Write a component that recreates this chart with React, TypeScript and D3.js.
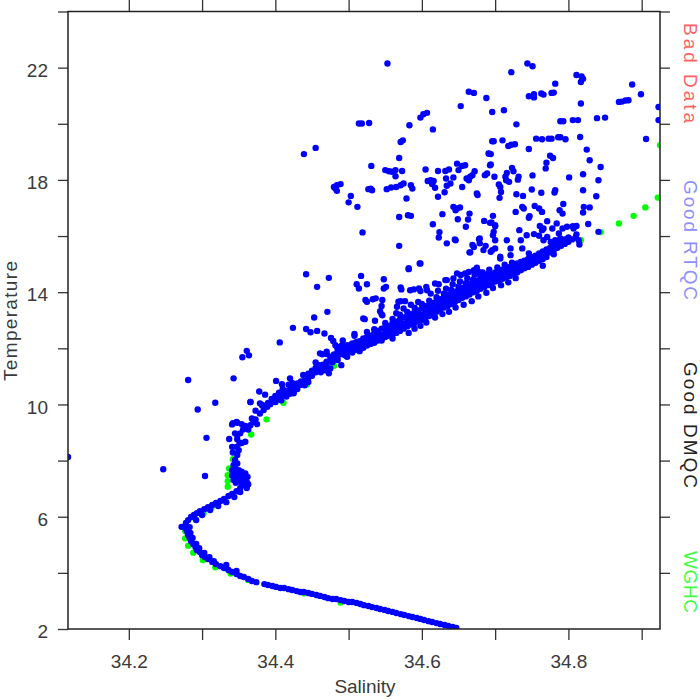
import { useEffect, useRef } from 'react';
import * as d3 from 'd3';

// axis ticks
const salinityTicks = [34.2, 34.3, 34.4, 34.5, 34.6, 34.7, 34.8, 34.9];
const salinityLabels = ['34.2', '34.4', '34.6', '34.8'];
const tempTicks = [2, 4, 6, 8, 10, 12, 14, 16, 18, 20, 22, 24];
const tempLabels = [2, 6, 10, 14, 18, 22];
const legendLabels = ['Bad Data', 'Good RTQC', 'Good DMQC', 'WGHC'];
const legendColors = ['#ff6262', '#8e8eff', '#222222', '#40ff40'];

// [salinity, temperature] — deep part of the profile (bottom curve + S bend)
const deepCurve = [
  [34.647, 2.04], [34.642, 2.07], [34.636, 2.11], [34.631, 2.14], [34.625, 2.18], [34.620, 2.21],
  [34.614, 2.25], [34.609, 2.28], [34.603, 2.32], [34.598, 2.36], [34.593, 2.39], [34.587, 2.43],
  [34.582, 2.46], [34.576, 2.50], [34.571, 2.53], [34.565, 2.57], [34.560, 2.61], [34.554, 2.64],
  [34.549, 2.68], [34.543, 2.71], [34.538, 2.75], [34.532, 2.78], [34.527, 2.82], [34.521, 2.85],
  [34.516, 2.89], [34.511, 2.93], [34.505, 2.96], [34.500, 2.96], [34.494, 3.00], [34.489, 3.03],
  [34.483, 3.07], [34.478, 3.07], [34.472, 3.10], [34.467, 3.14], [34.461, 3.18], [34.456, 3.21],
  [34.450, 3.25], [34.445, 3.28], [34.439, 3.32], [34.434, 3.32], [34.429, 3.35], [34.423, 3.39],
  [34.418, 3.42], [34.412, 3.46], [34.407, 3.46], [34.401, 3.50], [34.396, 3.53], [34.390, 3.57],
  [34.385, 3.60], [34.374, 3.67], [34.368, 3.71], [34.363, 3.78], [34.357, 3.85], [34.352, 3.89],
  [34.347, 3.96], [34.341, 4.03], [34.336, 4.10], [34.330, 4.17], [34.325, 4.24], [34.319, 4.31],
  [34.314, 4.39], [34.308, 4.49], [34.304, 4.56], [34.300, 4.64], [34.297, 4.74], [34.293, 4.81],
  [34.291, 4.92], [34.288, 5.03], [34.285, 5.13], [34.283, 5.24], [34.281, 5.35], [34.280, 5.45],
  [34.278, 5.56], [34.277, 5.67], [34.272, 5.64], [34.278, 5.78], [34.281, 5.88], [34.285, 5.99],
  [34.289, 6.06], [34.293, 6.13], [34.297, 6.20], [34.303, 6.27], [34.308, 6.34], [34.314, 6.42],
  [34.319, 6.49], [34.325, 6.56], [34.330, 6.63], [34.336, 6.74], [34.341, 6.81], [34.347, 6.91],
  [34.352, 7.02], [34.357, 7.13], [34.361, 7.24],
  [34.283, 5.63], [34.284, 5.42], [34.287, 5.24], [34.292, 5.03], [34.296, 4.88], [34.303, 4.71],
  [34.310, 4.56], [34.316, 4.42], [34.333, 4.28], [34.347, 4.07], [34.292, 5.88], [34.300, 6.06],
  [34.311, 6.24], [34.322, 6.38], [34.333, 6.52], [34.344, 6.70], [34.352, 6.88], [34.361, 7.02],
  [34.363, 7.16],
];

// knot near 7.5 degrees and the stem up to 10 degrees
const stemPoints = [
  [34.341, 7.66], [34.345, 7.72], [34.350, 7.66], [34.354, 7.60], [34.359, 7.54], [34.362, 7.42],
  [34.357, 7.33], [34.352, 7.31], [34.348, 7.37], [34.343, 7.31], [34.341, 7.48], [34.345, 7.54],
  [34.354, 7.48], [34.350, 7.48], [34.359, 7.19], [34.354, 7.13], [34.346, 7.21], [34.343, 7.84],
  [34.348, 7.90], [34.345, 8.02], [34.348, 8.20], [34.350, 8.37], [34.344, 7.84], [34.347, 8.49],
  [34.351, 8.61], [34.354, 8.63], [34.359, 8.67], [34.348, 8.76], [34.342, 8.29], [34.341, 8.49],
  [34.337, 8.77], [34.352, 8.97], [34.345, 8.97], [34.348, 8.91], [34.354, 9.30], [34.359, 9.23],
  [34.356, 9.11], [34.363, 9.11], [34.366, 9.26], [34.375, 9.30], [34.373, 9.47], [34.379, 9.68],
  [34.382, 9.98], [34.384, 9.80], [34.389, 9.92], [34.393, 10.01], [34.400, 10.09], [34.341, 9.29],
  [34.348, 9.35], [34.370, 9.38], [34.368, 9.50], [34.379, 10.04],
];

// thermocline band: salinity followed by temperatures read at that salinity
const bandRows = [
  [34.400, 10.10, 10.30], [34.405, 10.42, 10.22], [34.410, 10.35, 10.55], [34.415, 10.28, 10.48],
  [34.420, 10.52, 10.38], [34.425, 10.60, 10.45], [34.430, 10.55, 10.75], [34.435, 10.70, 10.82],
  [34.440, 10.85, 10.68], [34.445, 10.95, 11.10], [34.450, 11.02, 11.20], [34.455, 11.15, 11.30],
  [34.460, 11.25, 11.40], [34.465, 11.42, 11.33], [34.470, 11.50, 11.38], [34.475, 11.55, 11.70],
  [34.480, 11.62, 11.78], [34.485, 11.70, 11.90, 11.58], [34.490, 11.80, 11.95],
  [34.495, 11.88, 12.00, 11.75], [34.500, 11.92, 12.08], [34.505, 12.00, 11.85, 12.15],
  [34.510, 12.05, 12.22, 11.95], [34.515, 12.10, 12.25], [34.520, 12.18, 12.35, 12.02],
  [34.525, 12.22, 12.40, 12.10], [34.530, 12.28, 12.45, 12.15], [34.535, 12.35, 12.55, 12.20],
  [34.540, 12.42, 12.62, 12.28], [34.545, 12.48, 12.70, 12.32], [34.550, 12.55, 12.75, 12.40, 12.90],
  [34.555, 12.60, 12.80, 12.45], [34.560, 12.68, 12.90, 12.50, 13.05], [34.565, 12.75, 12.95, 12.55],
  [34.570, 12.80, 13.02, 12.62, 13.20], [34.575, 12.88, 13.10, 12.70], [34.580, 12.95, 13.15, 12.78, 13.30],
  [34.585, 13.02, 13.22, 12.85], [34.590, 13.08, 13.30, 12.90, 13.45], [34.595, 13.15, 13.35, 12.98],
  [34.600, 13.20, 13.42, 13.02, 13.58], [34.605, 13.28, 13.50, 13.10], [34.610, 13.35, 13.55, 13.15, 13.70],
  [34.615, 13.40, 13.62, 13.22], [34.620, 13.48, 13.68, 13.30, 13.82], [34.625, 13.55, 13.75, 13.38],
  [34.630, 13.62, 13.82, 13.45, 13.95], [34.635, 13.68, 13.90, 13.50], [34.640, 13.75, 13.95, 13.58, 14.08],
  [34.645, 13.82, 14.02, 13.65], [34.650, 13.88, 14.08, 13.72, 14.20], [34.655, 13.95, 14.15, 13.80],
  [34.660, 14.02, 14.22, 13.85, 14.32], [34.665, 14.08, 14.28, 13.92], [34.670, 14.15, 14.35, 14.00, 14.45],
  [34.675, 14.22, 14.40, 14.05], [34.680, 14.28, 14.48, 14.12, 14.55], [34.685, 14.35, 14.52, 14.18],
  [34.690, 14.40, 14.58, 14.25, 14.65], [34.695, 14.46, 14.62, 14.30], [34.700, 14.52, 14.70, 14.38],
  [34.705, 14.58, 14.75, 14.42], [34.710, 14.62, 14.80, 14.48], [34.715, 14.68, 14.85, 14.52],
  [34.720, 14.75, 14.90, 14.58], [34.725, 14.80, 14.95, 14.65], [34.730, 14.85, 15.02, 14.70],
  [34.735, 14.92, 15.08, 14.78], [34.740, 14.98, 15.12, 14.85], [34.745, 15.05, 15.18, 14.90],
  [34.750, 15.10, 15.25, 14.98], [34.755, 15.15, 15.30, 15.05], [34.760, 15.22, 15.38, 15.12],
  [34.765, 15.30, 15.45, 15.18], [34.770, 15.35, 15.52, 15.25], [34.775, 15.42, 15.58],
  [34.780, 15.50, 15.65, 15.35], [34.785, 15.58, 15.72], [34.790, 15.65, 15.80], [34.795, 15.72, 15.88],
  [34.800, 15.80, 15.95], [34.805, 15.88], [34.810, 15.95],
];

// looser points along the band edges
const bandEdge = [
  [34.582, 12.55], [34.590, 12.70], [34.598, 12.80], [34.606, 12.92], [34.612, 13.95], [34.618, 13.10],
  [34.622, 14.05], [34.628, 13.22], [34.633, 14.12], [34.637, 13.30], [34.642, 14.28], [34.646, 13.45],
  [34.652, 14.38], [34.657, 13.55], [34.662, 14.50], [34.668, 13.68], [34.672, 14.62], [34.677, 13.85],
  [34.683, 14.70], [34.688, 13.98], [34.692, 14.80], [34.697, 14.15], [34.703, 14.88], [34.708, 14.25],
  [34.713, 14.98], [34.718, 14.35], [34.723, 15.05], [34.728, 14.50], [34.560, 12.35], [34.565, 13.25],
  [34.575, 13.42], [34.585, 13.55], [34.595, 13.65], [34.545, 12.28], [34.535, 12.68], [34.525, 12.58],
  [34.515, 11.90], [34.508, 12.45], [34.498, 11.70], [34.492, 12.28], [34.478, 11.50], [34.470, 11.80],
  [34.462, 11.15], [34.455, 11.50], [34.445, 10.80], [34.438, 11.05], [34.425, 10.40], [34.418, 10.70],
  [34.408, 10.15], [34.395, 10.20], [34.390, 10.05], [34.386, 10.35],
];

// scattered points around the stem and band
const scatterMid = [
  [34.117, 8.13], [34.281, 10.87], [34.294, 9.82], [34.318, 10.06], [34.366, 10.09], [34.306, 8.81],
  [34.247, 7.69], [34.304, 7.45], [34.473, 14.51], [34.582, 14.82], [34.597, 15.02], [34.517, 14.58],
  [34.511, 14.28], [34.514, 14.13], [34.525, 14.28], [34.548, 14.46], [34.551, 14.19], [34.548, 14.13],
  [34.571, 14.17], [34.572, 14.10], [34.584, 14.07], [34.589, 14.10], [34.596, 14.13], [34.598, 14.04],
  [34.606, 14.19], [34.607, 14.07], [34.618, 14.31], [34.623, 14.28], [34.632, 14.43], [34.634, 14.43],
  [34.643, 14.49], [34.648, 14.67], [34.653, 14.61], [34.659, 14.67], [34.664, 14.72], [34.671, 14.78],
  [34.675, 14.87], [34.678, 14.72], [34.523, 13.72], [34.525, 13.66], [34.533, 13.75], [34.537, 13.78],
  [34.546, 13.72], [34.545, 13.51], [34.545, 13.21], [34.566, 13.48], [34.568, 13.66], [34.571, 13.68],
  [34.577, 13.68], [34.471, 13.30], [34.520, 13.06], [34.467, 12.53], [34.476, 12.37], [34.479, 12.26],
  [34.508, 12.51], [34.461, 11.82], [34.470, 11.88], [34.482, 12.11], [34.484, 12.05], [34.489, 11.82],
  [34.491, 12.11], [34.498, 12.11], [34.505, 12.17], [34.502, 11.88], [34.490, 11.40], [34.470, 11.52],
  [34.466, 11.40], [34.468, 11.22], [34.475, 11.28], [34.473, 11.11], [34.569, 15.65], [34.442, 14.64],
  [34.457, 14.19], [34.424, 12.73], [34.442, 12.69], [34.448, 12.57], [34.457, 12.62], [34.453, 13.10],
  [34.406, 12.21], [34.361, 11.91], [34.355, 11.68], [34.364, 11.75], [34.343, 10.93], [34.401, 10.84],
  [34.409, 10.72], [34.420, 10.93], [34.423, 10.77], [34.464, 11.79], [34.378, 10.46], [34.366, 10.09],
  [34.373, 9.78], [34.382, 9.97], [34.342, 9.33], [34.347, 9.38], [34.543, 13.32], [34.546, 13.18],
  [34.522, 13.04], [34.536, 12.98], [34.634, 15.74], [34.646, 15.85], [34.665, 15.42], [34.669, 15.68],
  [34.694, 15.44], [34.707, 15.26], [34.697, 16.03], [34.700, 16.35], [34.582, 14.85], [34.598, 15.02],
];

// warm upper cloud
const scatterUpper = [
  [34.553, 22.15], [34.664, 21.14], [34.671, 21.10], [34.688, 20.92], [34.653, 20.63], [34.598, 20.22],
  [34.602, 20.34], [34.607, 20.39], [34.514, 20.01], [34.518, 20.01], [34.528, 20.03], [34.583, 19.95],
  [34.615, 19.80], [34.571, 19.35], [34.574, 19.41], [34.455, 19.14], [34.439, 18.92], [34.569, 18.78],
  [34.531, 18.50], [34.550, 18.35], [34.555, 18.31], [34.559, 18.29], [34.564, 18.35], [34.573, 18.32],
  [34.564, 18.13], [34.605, 18.37], [34.622, 18.32], [34.632, 18.32], [34.637, 18.37], [34.648, 18.58],
  [34.650, 18.35], [34.655, 18.50], [34.659, 18.52], [34.672, 18.31], [34.686, 18.17], [34.689, 18.23],
  [34.691, 18.94], [34.693, 18.52], [34.480, 17.75], [34.484, 17.81], [34.489, 17.85], [34.482, 17.69],
  [34.484, 17.61], [34.527, 17.67], [34.532, 17.63], [34.530, 17.69], [34.552, 17.67], [34.558, 17.73],
  [34.565, 17.75], [34.571, 17.81], [34.575, 17.87], [34.585, 17.81], [34.587, 17.69], [34.608, 17.96],
  [34.612, 17.99], [34.616, 17.96], [34.614, 17.85], [34.618, 17.72], [34.633, 18.05], [34.634, 17.79],
  [34.639, 17.87], [34.643, 18.09], [34.655, 17.75], [34.661, 18.05], [34.664, 17.99], [34.666, 18.11],
  [34.669, 18.17], [34.675, 17.52], [34.676, 17.46], [34.503, 17.43], [34.500, 17.20], [34.512, 17.04],
  [34.579, 17.34], [34.622, 17.40], [34.631, 17.56], [34.643, 17.04], [34.648, 16.98], [34.652, 17.02],
  [34.646, 16.92], [34.569, 16.68], [34.581, 16.74], [34.585, 16.72], [34.628, 16.78], [34.665, 16.80],
  [34.663, 16.59], [34.649, 16.60], [34.660, 16.33], [34.685, 16.54], [34.693, 16.47], [34.615, 16.42],
  [34.519, 16.13], [34.624, 16.14], [34.623, 15.95], [34.645, 15.88], [34.679, 15.91],
  [34.744, 22.15], [34.751, 22.05], [34.722, 21.84], [34.811, 21.74], [34.818, 21.69], [34.820, 21.60],
  [34.817, 21.49], [34.887, 21.40], [34.899, 21.05], [34.923, 20.60], [34.923, 20.13], [34.782, 21.43],
  [34.780, 21.11], [34.777, 21.10], [34.746, 20.98], [34.753, 20.94], [34.753, 21.05], [34.763, 21.08],
  [34.766, 21.04], [34.817, 20.72], [34.869, 20.78], [34.873, 20.79], [34.878, 20.83], [34.882, 20.84],
  [34.696, 20.42], [34.712, 20.48], [34.729, 19.98], [34.789, 20.09], [34.793, 20.09], [34.806, 20.13],
  [34.813, 20.13], [34.839, 20.20], [34.850, 20.22], [34.696, 19.38], [34.698, 19.38], [34.710, 19.41],
  [34.718, 19.21], [34.722, 19.25], [34.727, 19.27], [34.756, 19.47], [34.764, 19.45], [34.773, 19.47],
  [34.777, 19.47], [34.786, 19.52], [34.789, 19.52], [34.796, 19.45], [34.816, 19.53], [34.906, 19.46],
  [34.746, 19.10], [34.692, 18.93], [34.694, 18.92], [34.775, 18.86], [34.779, 18.78], [34.825, 19.08],
  [34.829, 18.70], [34.770, 18.61], [34.769, 18.41], [34.694, 18.55], [34.844, 18.46], [34.841, 17.99],
  [34.838, 17.42], [34.723, 18.43], [34.725, 18.31], [34.716, 18.25], [34.714, 18.11], [34.715, 17.99],
  [34.719, 17.93], [34.732, 18.11], [34.731, 18.01], [34.751, 18.16], [34.801, 18.09], [34.820, 18.20],
  [34.699, 18.11], [34.705, 17.84], [34.707, 17.75], [34.708, 17.57], [34.706, 17.36], [34.750, 17.66],
  [34.763, 17.54], [34.782, 17.63], [34.781, 17.55], [34.820, 17.63], [34.729, 17.49], [34.738, 17.43],
  [34.728, 16.86], [34.737, 17.04], [34.739, 16.98], [34.754, 17.07], [34.760, 16.98], [34.764, 16.86],
  [34.788, 16.92], [34.792, 16.80], [34.793, 17.14], [34.821, 17.04], [34.829, 17.02], [34.820, 16.84],
  [34.697, 16.72], [34.695, 16.48], [34.700, 16.39], [34.746, 16.65], [34.747, 16.71], [34.771, 16.53],
  [34.761, 16.36], [34.766, 16.27], [34.784, 16.45], [34.778, 16.27], [34.787, 16.09], [34.792, 16.27],
  [34.798, 16.33], [34.806, 16.35], [34.811, 16.36], [34.807, 16.27], [34.827, 16.43], [34.811, 16.06],
  [34.733, 16.21], [34.743, 16.03], [34.753, 16.07], [34.764, 16.21], [34.841, 16.15], [34.716, 15.85],
  [34.735, 15.85], [34.760, 16.01], [34.766, 15.85], [34.771, 15.97], [34.776, 15.79], [34.782, 15.85],
  [34.789, 15.91], [34.794, 15.74], [34.798, 15.79], [34.678, 15.89], [34.679, 15.74], [34.687, 15.65],
  [34.684, 15.50], [34.696, 15.50], [34.700, 15.56], [34.666, 15.42], [34.671, 15.61], [34.707, 15.20],
  [34.721, 15.56], [34.721, 15.32], [34.737, 15.56], [34.746, 15.38], [34.814, 15.85], [34.815, 15.70],
  [34.765, 14.94], [34.698, 16.15], [34.700, 15.85],
];

// WGHC climatology points
const wghcPoints = [
  [34.489, 2.94], [34.439, 3.27], [34.363, 3.75], [34.339, 3.98], [34.318, 4.20], [34.301, 4.46],
  [34.288, 4.72], [34.281, 4.97], [34.277, 5.23], [34.277, 5.49], [34.291, 5.92], [34.302, 6.12],
  [34.313, 6.33], [34.335, 7.07], [34.335, 7.27], [34.335, 7.48], [34.337, 7.72], [34.342, 8.05],
  [34.367, 8.93], [34.388, 9.47], [34.411, 10.06], [34.443, 10.71], [34.480, 11.38], [34.516, 12.03],
  [34.555, 12.68], [34.605, 13.36], [34.655, 13.96], [34.817, 15.85], [34.844, 16.14], [34.869, 16.45],
  [34.889, 16.72], [34.905, 17.02], [34.922, 17.37], [34.925, 19.24],
];

const FONT = '"Liberation Sans", Arial, Helvetica, sans-serif';
const TEXT_COLOR = '#3a3a3a';

const App = () => {
  const svgRef = useRef(null);

  useEffect(() => {
    const svg = d3.select(svgRef.current);
    svg.selectAll('*').remove();

    const left = 68, right = 660, top = 11.5, bottom = 629;
    const x = d3.scaleLinear().domain([34.117, 34.925]).range([left, right]);
    const y = d3.scaleLinear().domain([2, 24]).range([bottom, top]);

    const bandPoints = bandRows.flatMap(([s, ...ts]) => ts.map(t => [s, t]));
    const bluePoints = [...deepCurve, ...stemPoints, ...bandPoints, ...bandEdge, ...scatterMid, ...scatterUpper];

    svg.append('defs').append('clipPath').attr('id', 'plot-clip')
      .append('rect').attr('x', left).attr('y', top)
      .attr('width', right - left).attr('height', bottom - top);

    const dots = svg.append('g').attr('clip-path', 'url(#plot-clip)');
    dots.selectAll('circle.wghc')
      .data(wghcPoints)
      .enter().append('circle')
      .attr('class', 'wghc')
      .attr('cx', d => x(d[0]))
      .attr('cy', d => y(d[1]))
      .attr('r', 3.2)
      .attr('fill', '#00ff00');
    dots.selectAll('circle.good')
      .data(bluePoints)
      .enter().append('circle')
      .attr('class', 'good')
      .attr('cx', d => x(d[0]))
      .attr('cy', d => y(d[1]))
      .attr('r', 3.2)
      .attr('fill', '#0000ff');

    const styleAxis = g => {
      g.select('.domain').remove();
      g.selectAll('.tick line').attr('stroke', '#333').attr('stroke-width', 1.3);
      g.selectAll('.tick text').attr('fill', TEXT_COLOR).attr('font-size', 19).attr('font-family', FONT);
    };

    svg.append('g')
      .attr('transform', `translate(0,${bottom})`)
      .call(d3.axisBottom(x).tickValues(salinityTicks).tickSize(11).tickPadding(15)
        .tickFormat(d => {
          const s = d3.format('.1f')(d);
          return salinityLabels.includes(s) ? s : '';
        }))
      .call(styleAxis);

    svg.append('g')
      .attr('transform', `translate(0,${top})`)
      .call(d3.axisTop(x).tickValues(salinityTicks).tickSize(11.5).tickFormat(() => ''))
      .call(styleAxis);

    svg.append('g')
      .attr('transform', `translate(${left},0)`)
      .call(d3.axisLeft(y).tickValues(tempTicks).tickSize(10).tickPadding(10)
        .tickFormat(d => (tempLabels.includes(d) ? String(d) : '')))
      .call(styleAxis)
      .call(g => g.selectAll('.tick text').attr('dy', '0.45em'));

    svg.append('g')
      .attr('transform', `translate(${right},0)`)
      .call(d3.axisRight(y).tickValues(tempTicks.slice(1)).tickSize(10).tickFormat(() => ''))
      .call(styleAxis);

    svg.append('rect')
      .attr('x', left).attr('y', top)
      .attr('width', right - left).attr('height', bottom - top)
      .attr('fill', 'none').attr('stroke', '#222').attr('stroke-width', 1.5);

    svg.append('text')
      .attr('x', 365).attr('y', 693)
      .attr('text-anchor', 'middle')
      .attr('font-family', FONT).attr('font-size', 19).attr('fill', TEXT_COLOR)
      .text('Salinity');

    svg.append('text')
      .attr('transform', 'translate(17,321) rotate(-90)')
      .attr('text-anchor', 'middle')
      .attr('font-family', FONT).attr('font-size', 19).attr('fill', TEXT_COLOR)
      .attr('textLength', 120).attr('lengthAdjust', 'spacing')
      .text('Temperature');

    // right-hand legend, written top to bottom
    const legendCenters = [73, 240, 425, 582];
    const legendLengths = [100, 120, 126, 62];
    legendLabels.forEach((label, i) => {
      svg.append('text')
        .attr('transform', `translate(684,${legendCenters[i]}) rotate(90)`)
        .attr('text-anchor', 'middle')
        .attr('font-family', FONT).attr('font-size', 19)
        .attr('textLength', legendLengths[i]).attr('lengthAdjust', 'spacing')
        .attr('fill', legendColors[i])
        .text(label);
    });
  }, []);

  return (
    <svg ref={svgRef} width={700} height={700}
      style={{ position: 'absolute', left: 0, top: 0, background: '#fff' }} />
  );
};

export default App;
